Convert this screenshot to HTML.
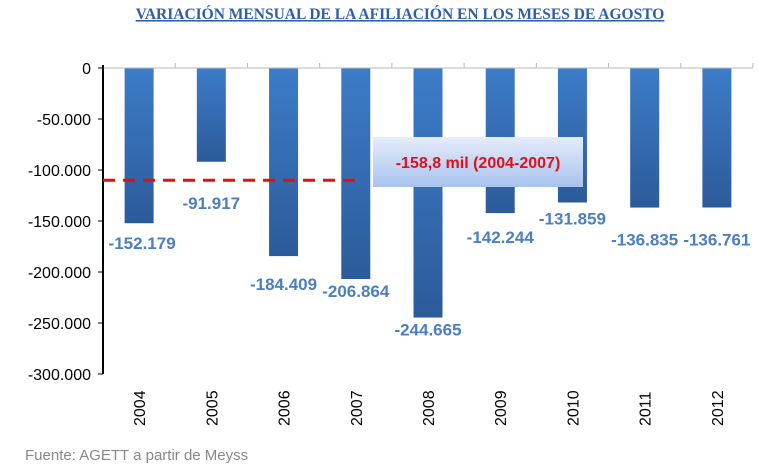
<!DOCTYPE html>
<html><head><meta charset="utf-8"><style>
body{margin:0;background:#fff;width:758px;height:470px;overflow:hidden}
svg text{font-family:"Liberation Sans",Arial,sans-serif}
</style></head><body>
<svg width="758" height="470">
<defs>
<linearGradient id="bg" x1="0" y1="0" x2="0" y2="1"><stop offset="0" stop-color="#3d7cc9"/><stop offset="1" stop-color="#2c5b9a"/></linearGradient>
<linearGradient id="boxg" x1="0" y1="0" x2="0" y2="1"><stop offset="0" stop-color="#e4ecfa"/><stop offset="1" stop-color="#a9c3ee"/></linearGradient>
</defs>
<text x="400" y="19" text-anchor="middle" font-weight="bold" font-size="15.5" fill="#2e5ea8" text-decoration="underline" style="font-family:'Liberation Serif',serif">VARIACIÓN MENSUAL DE LA AFILIACIÓN EN LOS MESES DE AGOSTO</text>
<g id="plot"></g>
<text x="25" y="460" font-size="15" fill="#888">Fuente: AGETT a partir de Meyss</text>
</svg>
<script>
const categories=["2004","2005","2006","2007","2008","2009","2010","2011","2012"];
const values=[-152179,-91917,-184409,-206864,-244665,-142244,-131859,-136835,-136761];
const valueLabels=["-152.179","-91.917","-184.409","-206.864","-244.665","-142.244","-131.859","-136.835","-136.761"];
const yTicks=[0,-50000,-100000,-150000,-200000,-250000,-300000];
const yTickLabels=["0","-50.000","-100.000","-150.000","-200.000","-250.000","-300.000"];
const averageValue=-110000;
const labelDy=[26,47,34,18,18,30,22,38,38];
const NS="http://www.w3.org/2000/svg";
const g=document.getElementById('plot');
const x0=103,x1=753,y0=68,y1=374,step=(x1-x0)/categories.length,bw=29;
const y=v=>y0+(v/-300000)*(y1-y0);
const xc=i=>x0+step*(i+0.5);
function mk(t,a){const e=document.createElementNS(NS,t);for(const k in a)e.setAttribute(k,a[k]);g.appendChild(e);return e;}
values.forEach((v,i)=>{
 const r=mk('rect',{x:xc(i)-bw/2,y:y0,width:bw,height:y(v)-y0,fill:'url(#bg)'});
 
 
});
yTicks.forEach((t,i)=>{
 mk('line',{x1:x0-5,x2:x0,y1:y(t),y2:y(t),stroke:'#000'});
 const tx=mk('text',{x:x0-12,y:y(t)+6,'text-anchor':'end','font-size':16,fill:'#000'});
 tx.textContent=yTickLabels[i];
 
 
});
for(let i=1;i<=categories.length;i++)mk('line',{x1:x0+step*i,x2:x0+step*i,y1:y0-5,y2:y0,stroke:'#bbb'});
mk('line',{x1:x0,x2:x1,y1:y0,y2:y0,stroke:'#bbb'});
mk('line',{x1:x0,x2:x0,y1:y0-3,y2:y1,stroke:'#000','stroke-width':2});
categories.forEach((c,i)=>{
 const t=mk('text',{transform:`translate(${xc(i)+6},${y1+52}) rotate(-90)`,'font-size':16,fill:'#000'});
 t.textContent=c;
 
 
});
const dl=mk('line',{x1:x0,x2:360,y1:y(averageValue),y2:y(averageValue),stroke:'#e01010','stroke-width':3,'stroke-dasharray':'12 8'});


values.forEach((v,i)=>{
 const t=mk('text',{x:xc(i)+(i===0?3:0),y:y(v)+labelDy[i],'text-anchor':'middle','font-size':17,'font-weight':'bold',fill:'#4a7fc0'});
 t.textContent=valueLabels[i];
 
 
});
const b=mk('rect',{x:373,y:137,width:210,height:50,fill:'url(#boxg)'});


const at=mk('text',{x:478,y:168,'text-anchor':'middle','font-size':16,'font-weight':'bold',fill:'#e0101a'});
at.textContent='-158,8 mil  (2004-2007)';


</script>
</body></html>
